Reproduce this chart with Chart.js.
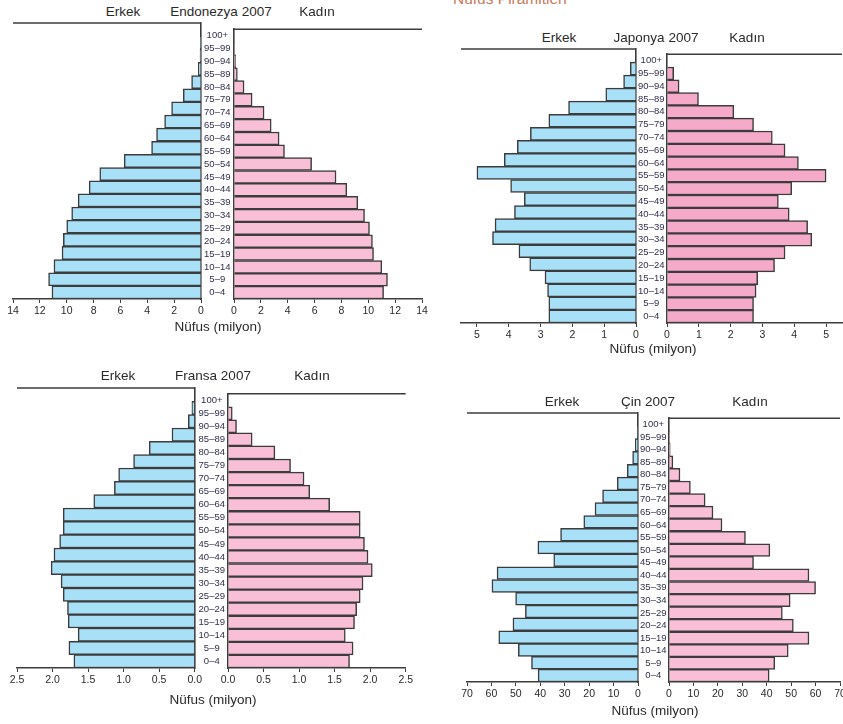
<!DOCTYPE html>
<html>
<head>
<meta charset="utf-8">
<title>Nüfus Piramitleri</title>
<script src="https://cdn.jsdelivr.net/npm/chart.js@4.4.1/dist/chart.umd.min.js"></script>
<style>
    html, body { margin: 0; padding: 0; background: #fff; overflow: hidden; }
    body { width: 843px; height: 724px; position: relative; font-family: 'Liberation Sans', Arial, sans-serif; }
    .kutu { position: absolute; }
    .yazi { position: absolute; transform: translate(-50%, -50%); white-space: nowrap; font-size: 13.5px; color: #2a2a2a; }
    #baslik { position: absolute; left: 453px; top: -9px; font-size: 15.5px; line-height: 15px; color: #c8795c; white-space: nowrap; }
</style>
</head>
<body>
<div id="baslik">Nüfus Piramitleri</div>
<script>

// Yaş grupları (alttan üste)
var yasGruplari = ['0–4', '5–9', '10–14', '15–19', '20–24', '25–29', '30–34', '35–39', '40–44', '45–49',
    '50–54', '55–59', '60–64', '65–69', '70–74', '75–79', '80–84', '85–89', '90–94', '95–99', '100+'];

// Endonezya 2007 (milyon)
var endonezyaErkek = [11.1, 11.35, 10.95, 10.35, 10.25, 10.0, 9.63, 9.15, 8.33, 7.54, 5.72, 3.68, 3.31, 2.71, 2.19, 1.32, 0.7, 0.2, 0.07, 0.02, 0];
var endonezyaKadin = [11.14, 11.43, 11.01, 10.39, 10.31, 10.09, 9.72, 9.22, 8.4, 7.6, 5.78, 3.76, 3.36, 2.77, 2.24, 1.35, 0.75, 0.25, 0.12, 0.03, 0];

// Japonya 2007 (milyon)
var japonyaErkek = [2.74, 2.74, 2.78, 2.86, 3.34, 3.68, 4.51, 4.43, 3.82, 3.51, 3.94, 5.0, 4.14, 3.73, 3.32, 2.74, 2.12, 0.95, 0.39, 0.18, 0];
var japonyaKadin = [2.72, 2.72, 2.8, 2.85, 3.38, 3.71, 4.55, 4.42, 3.84, 3.5, 3.92, 5.0, 4.13, 3.71, 3.31, 2.72, 2.1, 0.99, 0.38, 0.21, 0];

// Fransa 2007 (milyon)
var fransaErkek = [1.7, 1.77, 1.64, 1.78, 1.79, 1.85, 1.88, 2.02, 1.98, 1.9, 1.85, 1.85, 1.42, 1.13, 1.07, 0.86, 0.64, 0.32, 0.09, 0.04, 0];
var fransaKadin = [1.71, 1.76, 1.65, 1.78, 1.81, 1.86, 1.9, 2.03, 1.97, 1.92, 1.86, 1.86, 1.43, 1.15, 1.07, 0.88, 0.66, 0.34, 0.12, 0.06, 0];

// Çin 2007 (milyon)
var cinErkek = [40.9, 43.6, 49.0, 57.0, 51.2, 46.1, 50.1, 59.8, 57.7, 34.5, 41.0, 31.7, 22.2, 17.6, 14.5, 8.5, 4.4, 2.2, 1.1, 0.2, 0];
var cinKadin = [41.0, 43.3, 48.8, 57.3, 50.9, 46.4, 49.6, 60.0, 57.3, 34.6, 41.3, 31.3, 21.7, 18.0, 14.8, 8.75, 4.5, 1.6, 0.5, 0.1, 0];

var maviRenk = '#a8e0f8';
var pembeRenk = '#f8bfd7';
var koyuPembe = '#f5aac9';
var cizgiRenk = '#3c3c3c';

Chart.defaults.font.family = "'Liberation Sans', Arial, sans-serif";
Chart.defaults.color = '#2a2a2a';
Chart.defaults.animation = false;

// grafik alanının üst çizgisi
var ustCizgi = {
    id: 'ustCizgi',
    afterDraw: function (chart) {
        var a = chart.chartArea;
        var ctx = chart.ctx;
        ctx.save();
        ctx.strokeStyle = cizgiRenk;
        ctx.lineWidth = 1.6;
        ctx.beginPath();
        ctx.moveTo(a.left, a.top);
        ctx.lineTo(a.right, a.top);
        ctx.stroke();
        ctx.restore();
    }
};

function yaziEkle(metin, x, y) {
    var d = document.createElement('div');
    d.className = 'yazi';
    d.style.left = x + 'px';
    d.style.top = y + 'px';
    d.textContent = metin;
    document.body.appendChild(d);
}

function yanGrafik(p, veri, renk, kadinMi) {
    var bosluk = p.kadinSol - p.erkekSag;
    var ustPad = 3, altEksen = 24, sagPad = 8;
    var solPad = kadinMi ? 0 : 12;
    var sol, genislik;
    if (kadinMi) {
        sol = p.kadinSol - bosluk;
        genislik = bosluk + (p.kadinSag - p.kadinSol) + sagPad;
    } else {
        sol = p.erkekSol - solPad;
        genislik = solPad + (p.erkekSag - p.erkekSol) + sagPad;
    }
    var yukseklik = ustPad + (p.alt - p.ust) + altEksen;

    var div = document.createElement('div');
    div.className = 'kutu';
    div.style.left = sol + 'px';
    div.style.top = (p.ust - ustPad) + 'px';
    var canvas = document.createElement('canvas');
    canvas.width = genislik;
    canvas.height = yukseklik;
    div.appendChild(canvas);
    document.body.appendChild(div);

    var yEkseni = {
        position: kadinMi ? 'left' : 'right',
        reverse: true,
        grid: { display: false, drawTicks: false },
        border: { display: true, color: cizgiRenk, width: 1.6 },
        afterFit: function (s) { s.width = kadinMi ? bosluk : 0; }
    };
    if (kadinMi) {
        yEkseni.ticks = {
            crossAlign: 'center',
            padding: Math.max(0, bosluk / 2 - 13),
            autoSkip: false,
            color: '#30304a',
            font: { size: 9.5 }
        };
    } else {
        yEkseni.ticks = { display: false };
    }

    new Chart(canvas, {
        type: 'bar',
        data: {
            labels: yasGruplari,
            datasets: [{
                data: veri,
                backgroundColor: renk,
                borderColor: cizgiRenk,
                borderWidth: 1.5,
                barPercentage: 1,
                categoryPercentage: 1
            }]
        },
        options: {
            indexAxis: 'y',
            responsive: false,
            events: [],
            layout: { padding: { left: solPad, right: sagPad, top: ustPad, bottom: 0 } },
            plugins: { legend: { display: false }, tooltip: { enabled: false } },
            scales: {
                x: {
                    min: 0,
                    max: p.enFazla,
                    reverse: !kadinMi,
                    ticks: {
                        stepSize: p.adim,
                        includeBounds: false,
                        maxRotation: 0,
                        autoSkip: false,
                        padding: 2,
                        color: '#2a2a2a',
                        font: { size: 10.5 },
                        callback: function (v) { return p.ondalik ? Number(v).toFixed(1) : v; }
                    },
                    grid: { drawOnChartArea: false, drawTicks: true, tickLength: 4, color: cizgiRenk },
                    border: { color: cizgiRenk, width: 1.6 },
                    afterFit: function (s) { s.height = altEksen; }
                },
                y: yEkseni
            }
        },
        plugins: [ustCizgi]
    });
}

function piramitCiz(p) {
    yanGrafik(p, p.erkek, maviRenk, false);
    yanGrafik(p, p.kadin, p.pembe, true);
    yaziEkle('Erkek', p.basliklar[0], p.baslikY);
    yaziEkle(p.ad, p.basliklar[1], p.baslikY);
    yaziEkle('Kadın', p.basliklar[2], p.baslikY);
    yaziEkle('Nüfus (milyon)', p.eksenYazi[0], p.eksenYazi[1]);
}

piramitCiz({
    ad: 'Endonezya 2007', erkek: endonezyaErkek, kadin: endonezyaKadin, pembe: pembeRenk,
    erkekSol: 13, erkekSag: 201, kadinSol: 234, kadinSag: 422, ust: 23, alt: 299,
    enFazla: 14, adim: 2, ondalik: false,
    basliklar: [123, 221, 317], baslikY: 11, eksenYazi: [218, 326]
});

piramitCiz({
    ad: 'Japonya 2007', erkek: japonyaErkek, kadin: japonyaKadin, pembe: koyuPembe,
    erkekSol: 461, erkekSag: 636, kadinSol: 667, kadinSag: 842, ust: 49, alt: 323,
    enFazla: 5.5, adim: 1, ondalik: false,
    basliklar: [559, 656, 747], baslikY: 37, eksenYazi: [653, 348]
});

piramitCiz({
    ad: 'Fransa 2007', erkek: fransaErkek, kadin: fransaKadin, pembe: pembeRenk,
    erkekSol: 17, erkekSag: 196, kadinSol: 228, kadinSag: 407, ust: 388, alt: 668,
    enFazla: 2.5, adim: 0.5, ondalik: true,
    basliklar: [118, 213, 312], baslikY: 375, eksenYazi: [213, 699]
});

piramitCiz({
    ad: 'Çin 2007', erkek: cinErkek, kadin: cinKadin, pembe: pembeRenk,
    erkekSol: 467, erkekSag: 638, kadinSol: 669, kadinSag: 840, ust: 413, alt: 682,
    enFazla: 70, adim: 10, ondalik: false,
    basliklar: [562, 648, 750], baslikY: 401, eksenYazi: [655, 710]
});

</script>
</body>
</html>
